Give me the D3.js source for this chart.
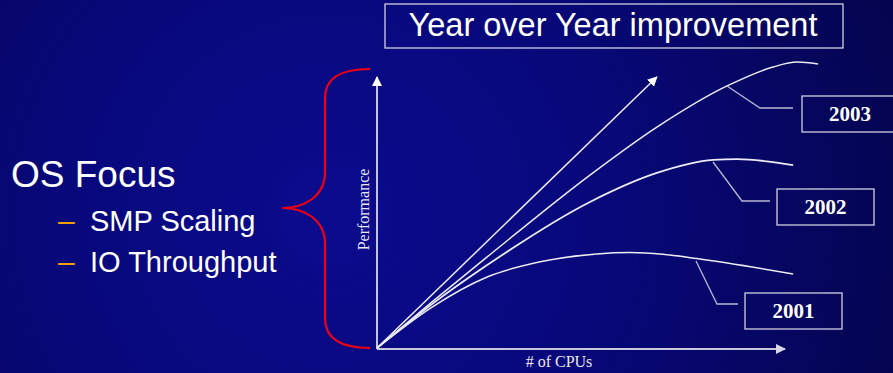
<!DOCTYPE html>
<html>
<head>
  <meta charset='utf-8' />
  <title>Year over Year improvement</title>
  <style>
    html, body { margin: 0; padding: 0; background: #06065a; }
    svg { display: block; }
  </style>
</head>
<body>
<svg id='chart' width='893' height='373'></svg>
<script src="https://d3js.org/d3.v7.min.js"></script>
<script>
  // relative units: 0..100 on both axes = length of the drawn axes
  const ideal = [[0, 0], [68.6, 100]]

  const years = ['2001', '2002', '2003']
  const cpus2001 = [0, 13.5, 27.0, 40.0, 53.9, 62.0, 70.0, 78.4, 102.0]
  const perf2001 = [0, 15.1, 26.2, 31.8, 34.7, 35.2, 34.6, 33.0, 27.3]
  const cpus2002 = [0, 13.5, 27.0, 52.2, 68.6, 82.4, 88.2, 102.0]
  const perf2002 = [0, 16.2, 30.6, 53.9, 64.6, 69.4, 69.7, 67.5]
  const cpus2003 = [0, 13.5, 27.0, 52.2, 68.6, 85.8, 97.1, 102.9, 108.1]
  const perf2003 = [0, 17.0, 33.6, 63.8, 81.5, 96.7, 103.7, 105.5, 104.8]

  const focusTitle = 'OS Focus'
  const focusItems = ['SMP Scaling', 'IO Throughput']

  const svg = d3.select('#chart')
  const W = 893, H = 373

  // background
  const defs = svg.append('defs')
  const grad = defs.append('radialGradient')
    .attr('id', 'bg').attr('gradientUnits', 'userSpaceOnUse')
    .attr('cx', 330).attr('cy', 215).attr('r', 620)
  grad.append('stop').attr('offset', 0).attr('stop-color', '#0b0b8e')
  grad.append('stop').attr('offset', 0.45).attr('stop-color', '#08087a')
  grad.append('stop').attr('offset', 1).attr('stop-color', '#04044c')
  svg.append('rect').attr('width', W).attr('height', H).attr('fill', 'url(#bg)')

  const arrow = (id, color) => defs.append('marker')
    .attr('id', id).attr('viewBox', '0 0 10 10')
    .attr('refX', 9).attr('refY', 5)
    .attr('markerWidth', 10).attr('markerHeight', 10)
    .attr('markerUnits', 'userSpaceOnUse')
    .attr('orient', 'auto')
    .append('path').attr('d', 'M0,0L10,5L0,10Z').attr('fill', color)
  arrow('arrW', '#ffffff')
  arrow('arrG', '#d8d8e8')

  const x = d3.scaleLinear().domain([0, 100]).range([377, 785])
  const y = d3.scaleLinear().domain([0, 100]).range([348, 77])

  // axes
  svg.append('line')
    .attr('x1', x(0)).attr('y1', y(0) + 1).attr('x2', x(100)).attr('y2', y(0) + 1)
    .attr('stroke', '#c8c8dc').attr('stroke-width', 2)
    .attr('marker-end', 'url(#arrG)')
  svg.append('line')
    .attr('x1', x(0)).attr('y1', y(0) + 1).attr('x2', x(0)).attr('y2', y(100))
    .attr('stroke', '#ffffff').attr('stroke-width', 1.5)
    .attr('marker-end', 'url(#arrW)')

  svg.append('text')
    .attr('x', (x(0) + x(100)) / 2 - 22).attr('y', 367)
    .attr('text-anchor', 'middle')
    .attr('font-family', 'Liberation Serif, Times New Roman, serif')
    .attr('font-size', 16).attr('fill', '#e8e8f0')
    .text('# of CPUs')
  svg.append('text')
    .attr('transform', 'translate(369,' + ((y(0) + y(100)) / 2 - 3) + ') rotate(-90)')
    .attr('text-anchor', 'middle')
    .attr('font-family', 'Liberation Serif, Times New Roman, serif')
    .attr('font-size', 16).attr('fill', '#e8e8f0')
    .text('Performance')

  // curves
  const line = d3.line().x(d => x(d[0])).y(d => y(d[1])).curve(d3.curveMonotoneX)
  const series = [
    cpus2001.map((c, i) => [c, perf2001[i]]),
    cpus2002.map((c, i) => [c, perf2002[i]]),
    cpus2003.map((c, i) => [c, perf2003[i]])
  ]
  svg.selectAll('path.curve')
    .data(series)
    .enter()
    .append('path')
    .attr('class', 'curve')
    .attr('d', line)
    .attr('fill', 'none')
    .attr('stroke', '#ececf4')
    .attr('stroke-width', (d, i) => i === 1 ? 1.8 : 1.5)

  svg.append('line')
    .attr('x1', x(ideal[0][0])).attr('y1', y(ideal[0][1]))
    .attr('x2', x(ideal[1][0])).attr('y2', y(ideal[1][1]))
    .attr('stroke', '#ececf4').attr('stroke-width', 1.5)
    .attr('marker-end', 'url(#arrW)')

  // year callouts (pixel layout)
  const callouts = [
    { pts: [[696, 261], [717, 304], [738, 304]], box: [745, 293, 97, 36] },
    { pts: [[713, 162], [742, 201], [770, 201]], box: [777, 189, 97, 36] },
    { pts: [[727, 86], [760, 108], [793, 108]], box: [802, 96, 96, 36] }
  ]
  callouts.forEach((c, i) => {
    svg.append('polyline')
      .attr('points', c.pts.map(p => p.join(',')).join(' '))
      .attr('fill', 'none').attr('stroke', '#b8b8d4').attr('stroke-width', 1.3)
    svg.append('rect')
      .attr('x', c.box[0]).attr('y', c.box[1]).attr('width', c.box[2]).attr('height', c.box[3])
      .attr('fill', 'none').attr('stroke', '#d0d0e0').attr('stroke-width', 1.3)
    svg.append('text')
      .attr('x', c.box[0] + c.box[2] / 2).attr('y', c.box[1] + c.box[3] / 2 + 7)
      .attr('text-anchor', 'middle')
      .attr('font-family', 'Liberation Serif, Times New Roman, serif')
      .attr('font-weight', 'bold').attr('font-size', 21).attr('fill', '#ffffff')
      .text(years[i])
  })

  // title box
  svg.append('rect')
    .attr('x', 385).attr('y', 4).attr('width', 458).attr('height', 44)
    .attr('fill', 'none').attr('stroke', '#d0d0e0').attr('stroke-width', 1.3)
  svg.append('text')
    .attr('x', 613).attr('y', 36).attr('text-anchor', 'middle')
    .attr('font-family', 'Liberation Sans, Arial, sans-serif')
    .attr('font-size', 32.5).attr('fill', '#ffffff')
    .text('Year over Year improvement')

  // left text
  svg.append('text')
    .attr('x', 11).attr('y', 187)
    .attr('font-family', 'Liberation Sans, Arial, sans-serif')
    .attr('font-size', 37).attr('fill', '#ffffff')
    .text(focusTitle)
  focusItems.forEach((t, i) => {
    const by = 231 + i * 41
    svg.append('text')
      .attr('x', 58).attr('y', by)
      .attr('font-family', 'Liberation Sans, Arial, sans-serif')
      .attr('font-size', 30).attr('fill', '#f0a000')
      .text('\u2013')
    svg.append('text')
      .attr('x', 90).attr('y', by)
      .attr('font-family', 'Liberation Sans, Arial, sans-serif')
      .attr('font-size', 29).attr('fill', '#ffffff')
      .text(t)
  })

  // red brace
  const brace = d3.path()
  brace.moveTo(370, 69)
  brace.bezierCurveTo(340, 69, 325, 78, 325, 98)
  brace.lineTo(325, 172)
  brace.bezierCurveTo(325, 196, 305, 208, 282, 208)
  brace.bezierCurveTo(305, 208, 325, 220, 325, 244)
  brace.lineTo(325, 318)
  brace.bezierCurveTo(325, 338, 340, 348, 370, 348)
  svg.append('path').attr('d', brace.toString())
    .attr('fill', 'none').attr('stroke', '#f00010').attr('stroke-width', 2.2)
</script>
</body>
</html>
